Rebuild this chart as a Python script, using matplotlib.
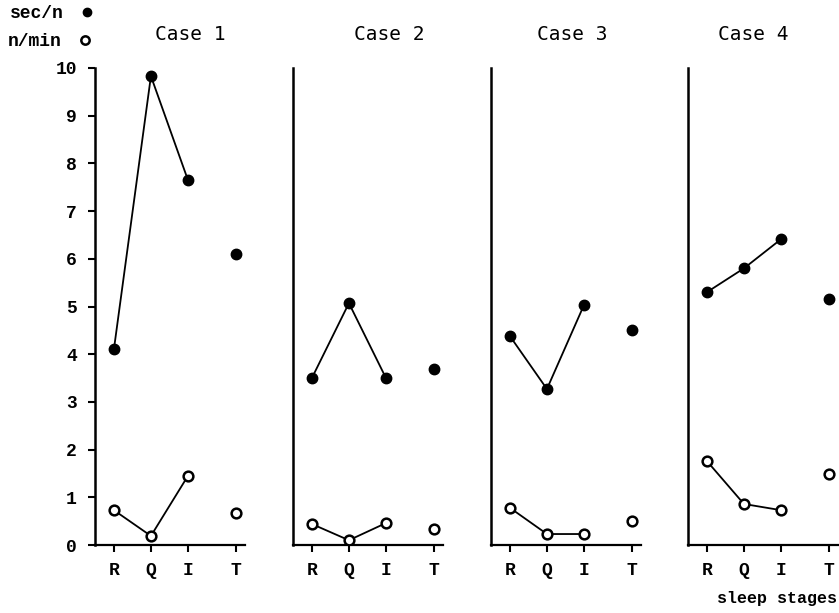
import matplotlib.pyplot as plt
from matplotlib.lines import Line2D
import numpy as np

WIDTH = 839
HEIGHT = 613

stages = ["R", "Q", "I", "T"]
stage_pos = [0, 1, 2, 3.3]
cases = ["Case 1", "Case 2", "Case 3", "Case 4"]

# sec/n (filled dots)
sec_per_n = [
    [4.1, 9.83, 7.65, 6.1],
    [3.5, 5.07, 3.5, 3.68],
    [4.38, 3.27, 5.03, 4.5],
    [5.3, 5.8, 6.41, 5.16],
]
# n/min (open circles)
n_per_min = [
    [0.73, 0.19, 1.45, 0.67],
    [0.44, 0.10, 0.46, 0.34],
    [0.78, 0.23, 0.23, 0.50],
    [1.76, 0.86, 0.73, 1.49],
]
y_ticks = list(range(0, 11))

MONO = "Liberation Mono"

fig = plt.figure(figsize=(WIDTH / 100, HEIGHT / 100), dpi=100)

lefts = [95, 293, 491, 688]
title_offsets = [95, 96, 81, 65]
bottom = 1 - 545 / HEIGHT
height = (545 - 68) / HEIGHT

for k in range(4):
    ax = fig.add_axes([lefts[k] / WIDTH, bottom, 150 / WIDTH, height])
    ax.set_xlim(-0.51, 3.54)
    ax.set_ylim(0, 10)
    for side in ["top", "right"]:
        ax.spines[side].set_visible(False)
    ax.spines["left"].set_linewidth(1.8)
    ax.spines["bottom"].set_linewidth(1.6)

    # lines join R-Q-I only, T stands alone
    ax.plot(stage_pos[:3], sec_per_n[k][:3], color="black", lw=1.3, zorder=2)
    ax.plot(stage_pos[:3], n_per_min[k][:3], color="black", lw=1.3, zorder=2)
    ax.plot(stage_pos, sec_per_n[k], "o", color="black", ms=7.5, ls="none", zorder=3)
    ax.plot(stage_pos, n_per_min[k], "o", mfc="white", mec="black", mew=1.8,
            ms=7, ls="none", zorder=3)

    ax.set_xticks(stage_pos)
    ax.set_xticklabels(stages, fontfamily=MONO, fontweight="bold", fontsize=13)
    ax.tick_params(axis="x", direction="out", length=5, width=1.5, pad=7)
    if k == 0:
        ax.set_yticks(y_ticks)
        ax.set_yticklabels([str(v) for v in y_ticks], fontfamily=MONO,
                           fontweight="bold", fontsize=13)
        ax.tick_params(axis="y", direction="out", length=5, width=1.5, pad=8)
    else:
        ax.set_yticks([])

    fig.text((lefts[k] + title_offsets[k]) / WIDTH, 1 - 35 / HEIGHT, cases[k],
             ha="center", va="center", fontfamily="DejaVu Sans Mono",
             fontsize=14)

# legend at top left
fig.text(10 / WIDTH, 1 - 13 / HEIGHT, "sec/n", ha="left", va="center",
         fontfamily=MONO, fontweight="bold", fontsize=13)
fig.text(8 / WIDTH, 1 - 41 / HEIGHT, "n/min", ha="left", va="center",
         fontfamily=MONO, fontweight="bold", fontsize=13)
fig.add_artist(Line2D([87 / WIDTH], [1 - 12 / HEIGHT], marker="o", color="black",
                      ms=6, ls="none", transform=fig.transFigure))
fig.add_artist(Line2D([85 / WIDTH], [1 - 40 / HEIGHT], marker="o", mfc="white",
                      mec="black", mew=1.8, ms=6, ls="none",
                      transform=fig.transFigure))

fig.text(777 / WIDTH, 1 - 598 / HEIGHT, "sleep stages", ha="center", va="center",
         fontfamily=MONO, fontweight="bold", fontsize=12)

fig.savefig("out.png", dpi=100)
